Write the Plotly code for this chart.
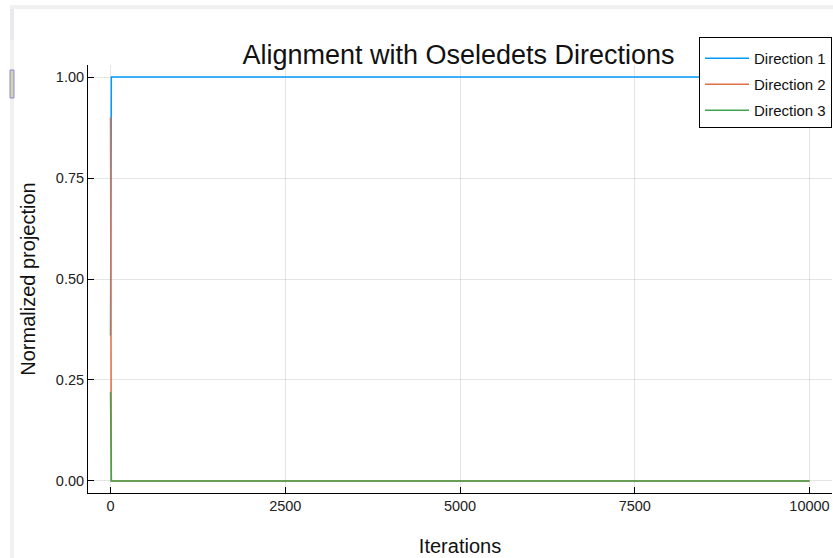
import plotly.graph_objects as go

# ---- data ----
iterations = [0, 12, 10000]
direction_1 = [0.36, 1.0, 1.0]
direction_2 = [0.90, 0.0, 0.0]
direction_3 = [0.22, 0.0, 0.0]
series_names = ["Direction 1", "Direction 2", "Direction 3"]
x_ticks = [0, 2500, 5000, 7500, 10000]
y_ticks = [0.0, 0.25, 0.5, 0.75, 1.0]
y_tick_labels = ["0.00", "0.25", "0.50", "0.75", "1.00"]

colors = ["#009AFA", "#E36F47", "#3EA44E"]

W, H = 833, 558
L, R, T, B = 88, 1, 65, 558 - 493
pw = W - L - R
ph = H - T - B

def px_x(p):
    return (p - L) / pw

def px_y(p):
    return (H - B - p) / ph

fig = go.Figure()
for name, ys, c in zip(series_names, [direction_1, direction_2, direction_3], colors):
    fig.add_trace(go.Scatter(x=iterations, y=ys, mode="lines", name=name,
                             line=dict(color=c, width=1.5), legendgroup=name))

axis_common = dict(
    showline=True, linecolor="black", linewidth=1, mirror=False,
    ticks="inside", ticklen=6, tickwidth=1, tickcolor="black",
    showgrid=True, gridcolor="rgba(0,0,0,0.1)", gridwidth=1,
    zeroline=False, tickfont=dict(size=14.5, color="#222"),
    title_font=dict(size=20, color="#111"),
)

fig.update_layout(
    width=W, height=H,
    margin=dict(l=L, r=R, t=T, b=B),
    paper_bgcolor="white", plot_bgcolor="white",
    font=dict(family="Liberation Sans, Arial, sans-serif"),
    title=dict(text="Alignment with Oseledets Directions", x=458.5 / W, xanchor="center",
               y=1 - 55 / H, yanchor="middle", font=dict(size=27, color="#111")),
    xaxis=dict(range=[-322, 10322], tickvals=x_ticks, ticktext=[str(v) for v in x_ticks],
               title=dict(text="Iterations", standoff=25), **axis_common),
    yaxis=dict(range=[-0.03, 1.03], tickvals=y_ticks, ticktext=y_tick_labels,
               title=dict(text="Normalized projection", standoff=14), **axis_common),
    legend=dict(x=px_x(699), y=px_y(37), xanchor="left", yanchor="top",
                bordercolor="black", borderwidth=1, bgcolor="white", itemwidth=44,
                font=dict(size=15, color="#111"), tracegroupgap=3.5, traceorder="grouped",
                title=dict(text=" ", font=dict(size=3))),
    showlegend=True,
)

# screenshot edge artifacts
shapes = [
    dict(type="rect", xref="paper", yref="paper", x0=px_x(10), x1=px_x(833), y0=px_y(9), y1=px_y(5),
         fillcolor="#f0f0f0", line=dict(width=0), layer="above"),
    dict(type="rect", xref="paper", yref="paper", x0=px_x(10), x1=px_x(14), y0=px_y(558), y1=px_y(9),
         fillcolor="#f1f1f1", line=dict(width=0), layer="above"),
    dict(type="rect", xref="paper", yref="paper", x0=px_x(10), x1=px_x(14), y0=px_y(40), y1=px_y(9),
         fillcolor="#ebe7f0", line=dict(width=0), layer="above"),
    dict(type="rect", xref="paper", yref="paper", x0=px_x(10), x1=px_x(14), y0=px_y(98), y1=px_y(70),
         fillcolor="#c5dca8", line=dict(width=1, color="#a07ee0"), layer="above"),
]
fig.update_layout(shapes=shapes)

fig.write_html(
    "out.html",
    config={"displayModeBar": False},
    post_script="document.body.style.margin='0px';document.body.style.overflow='hidden';",
)
